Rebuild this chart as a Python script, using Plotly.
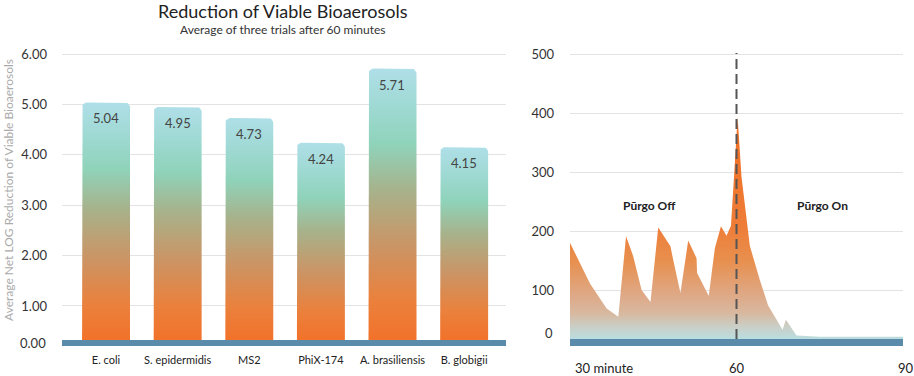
import numpy as np
import plotly.graph_objects as go

# ---------------- data ----------------
organisms = ["E. coli", "S. epidermidis", "MS2", "PhiX-174", "A. brasiliensis", "B. globigii"]
log_reduction = [5.04, 4.95, 4.73, 4.24, 5.71, 4.15]
left_tick_vals = [1, 2, 3, 4, 5, 6]
left_tick_text = ["1.00", "2.00", "3.00", "4.00", "5.00", "6.00"]

minutes = [30.0, 33.6, 36.6, 38.7, 40.1, 41.4, 42.9, 44.5, 45.9, 48.1, 48.6, 49.9,
           51.3, 52.8, 52.9, 55.0, 56.1, 57.2, 58.2, 59.0, 59.6, 60.2, 60.9, 61.5,
           62.4, 64.2, 65.7, 68.3, 68.9, 70.8, 75.0, 90.0]
particles = [181, 112, 70, 56, 192, 158, 101, 81, 207, 175, 152, 96,
             185, 155, 130, 91, 172, 209, 193, 210, 300, 394, 293, 245,
             176, 118, 75, 34, 51, 24, 22, 22]
right_tick_vals = [100, 200, 300, 400, 500]

W, H = 914, 376
FONT = "Lato, 'Open Sans', sans-serif"

# layout geometry (pixels)
L_x0, L_x1 = 62, 506
R_x0, R_x1 = 570, 903
P_top, P_bot = 40, 346
ydom = [1 - P_bot / H, 1 - P_top / H]
L_xrange = [-0.615, 5.585]
L_yrange = [0.206, 6.278]
R_xrange = [30, 90]
R_yrange = [6.4, 524.2]

px_x = (L_x1 - L_x0) / (L_xrange[1] - L_xrange[0])
px_y = (P_bot - P_top) / (L_yrange[1] - L_yrange[0])

bar_scale = [[0.0, "#F2722A"], [0.15, "#EA813D"], [0.35, "#CA9566"], [0.55, "#A7B28B"],
             [0.72, "#8FD3BA"], [0.86, "#9FD9D3"], [1.0, "#AFDFE8"]]

fig = go.Figure()

hw = 0.335
r = 5.0
rx, ry = r / px_x, r / px_y
t = np.linspace(0, np.pi / 2, 8)
for i, v in enumerate(log_reduction):
    xs = [i - hw, i - hw]
    ys = [0, v - ry]
    xs += list(i - hw + rx - rx * np.cos(t))
    ys += list(v - ry + ry * np.sin(t))
    xs += list(i + hw - rx + rx * np.sin(t))
    ys += list(v - ry + ry * np.cos(t))
    xs += [i + hw, i - hw]
    ys += [0, 0]
    fig.add_trace(go.Scatter(
        x=xs, y=ys, mode="lines", fill="toself", line=dict(width=0),
        fillgradient=dict(type="vertical", colorscale=bar_scale, start=0.33, stop=v),
        hoverinfo="skip", showlegend=False, xaxis="x", yaxis="y"))

area_scale = [[0.0, "#B7DFE3"], [0.06, "#C9D0C8"], [0.12, "#D8B9A0"], [0.2, "#DEA987"],
              [0.35, "#E8904F"], [0.5, "#EE7D38"], [1.0, "#F26C20"]]
fig.add_trace(go.Scatter(
    x=minutes, y=particles, mode="lines", fill="tozeroy", line=dict(width=0),
    fillgradient=dict(type="vertical", colorscale=area_scale, start=15, stop=400),
    hoverinfo="skip", showlegend=False, xaxis="x2", yaxis="y2"))

annotations = []
for i, v in enumerate(log_reduction):
    annotations.append(dict(x=i, y=v, xref="x", yref="y", text=f"{v:.2f}", showarrow=False,
                            yshift=-16, yanchor="middle",
                            font=dict(size=13, color="#444444", family=FONT)))


def pann(x, y, text, size=13, color="#222222", xanchor="center", **kw):
    d = dict(x=x, y=y, xref="paper", yref="paper", text=text, showarrow=False,
             xanchor=xanchor, yanchor="middle", font=dict(size=size, color=color, family=FONT))
    d.update(kw)
    return d


annotations += [
    pann(283 / W, 1 - 11 / H, "Reduction of Viable Bioaerosols", size=18),
    pann(283 / W, 1 - 29.5 / H, "Average of three trials after 60 minutes", size=12, color="#333333"),
    pann(8 / W, 1 - 190 / H, "Average Net LOG Reduction of Viable Bioaerosols", size=12,
         color="#AAAAAA", textangle=-90),
    pann(48 / W, 1 - 343 / H, "0.00", xanchor="right", color="#333333"),
    dict(x=555 / W, y=28.5, xref="paper", yref="y2", text="0", xanchor="right", yanchor="middle",
         showarrow=False, font=dict(size=13, color="#333333", family=FONT)),
    pann(649 / W, 1 - 205 / H, "<b>Pūrgo Off</b>", size=12),
    pann(822 / W, 1 - 205 / H, "<b>Pūrgo On</b>", size=12),
    pann(573 / W, 1 - 368 / H, "30 minute", xanchor="left"),
    dict(x=60, y=1 - 368 / H, xref="x2", yref="paper", text="60", showarrow=False,
         yanchor="middle", font=dict(size=13, color="#222222", family=FONT)),
    pann(906 / W, 1 - 368 / H, "90"),
]

shapes = [
    dict(type="rect", xref="x domain", yref="y", x0=0, x1=1, y0=L_yrange[0], y1=0.325,
         fillcolor="#5B8BAA", line=dict(width=0), layer="above"),
    dict(type="rect", xref="x2 domain", yref="y2", x0=0, x1=1, y0=R_yrange[0], y1=18.3,
         fillcolor="#5B8BAA", line=dict(width=0), layer="above"),
    dict(type="line", xref="x2", yref="y2", x0=60, x1=60, y0=18.3, y1=502,
         line=dict(color="#555555", width=2, dash="10px,5px"), layer="above"),
]

fig.update_layout(
    width=W, height=H, margin=dict(l=0, r=0, t=0, b=0),
    paper_bgcolor="white", plot_bgcolor="white",
    font=dict(family=FONT, size=12, color="#222222"),
    xaxis=dict(domain=[L_x0 / W, L_x1 / W], range=L_xrange, tickmode="array",
               tickvals=list(range(len(organisms))), ticktext=organisms,
               showgrid=False, zeroline=False, showline=False, ticks="", ticklabelstandoff=6,
               tickfont=dict(size=11, color="#222222")),
    yaxis=dict(domain=ydom, range=L_yrange, tickmode="array", tickvals=left_tick_vals,
               ticktext=left_tick_text, showgrid=True, gridcolor="#E3E3E3", gridwidth=1,
               zeroline=False, showline=False, ticks="", ticklabelstandoff=14,
               tickfont=dict(size=13, color="#333333")),
    xaxis2=dict(domain=[R_x0 / W, R_x1 / W], range=R_xrange, showgrid=False, zeroline=False,
                showline=False, showticklabels=False, ticks="", anchor="y2"),
    yaxis2=dict(domain=ydom, range=R_yrange, tickmode="array", tickvals=right_tick_vals,
                showgrid=True, gridcolor="#E3E3E3", gridwidth=1, zeroline=False, showline=False,
                ticks="", ticklabelstandoff=15, anchor="x2",
                tickfont=dict(size=13, color="#333333")),
    annotations=annotations, shapes=shapes,
)

fig.write_html("out.html", config={"displayModeBar": False},
               post_script="document.body.style.margin='0';document.body.style.overflow='hidden';")
